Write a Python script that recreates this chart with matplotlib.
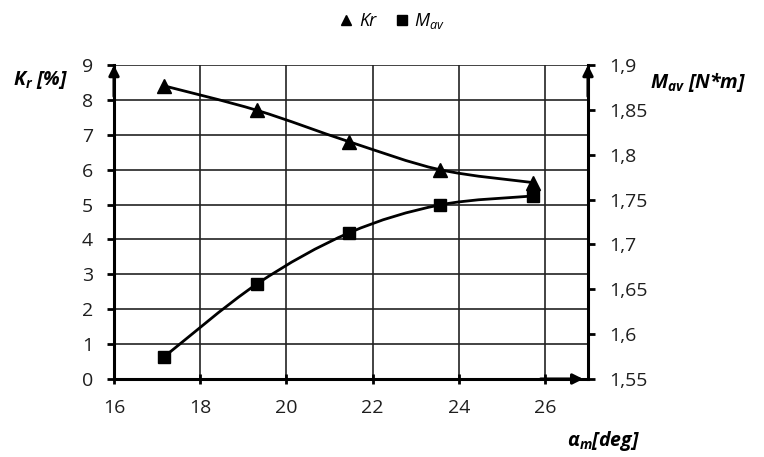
import numpy as np
import matplotlib
matplotlib.use('Agg')
import matplotlib.pyplot as plt
from matplotlib.path import Path
from matplotlib.patches import PathPatch
from matplotlib.lines import Line2D

plt.rcParams['font.family'] = ['Open Sans', 'DejaVu Sans']
plt.rcParams['mathtext.fontset'] = 'custom'
plt.rcParams['mathtext.rm'] = 'Open Sans'
plt.rcParams['mathtext.it'] = 'Open Sans:italic'
plt.rcParams['mathtext.bf'] = 'Open Sans:italic:bold'

# ── Data ────────────────────────────────────────────────────────────────────
alpha_m = [17.17, 19.32, 21.46, 23.56, 25.72]       # deg
kr      = [8.40, 7.70, 6.80, 6.00, 5.63]            # %
mav     = [1.575, 1.656, 1.713, 1.744, 1.754]       # N*m

x_ticks  = [16, 18, 20, 22, 24, 26]
kr_ticks = list(range(0, 10))
mav_ticks = [1.55, 1.60, 1.65, 1.70, 1.75, 1.80, 1.85, 1.90]

TXT = '#1e1e1e'


def smooth_path(xs, ys):
    # Excel-like smoothed line: cubic Bezier segments, Catmull-Rom tangents
    p = np.column_stack([xs, ys]).astype(float)
    n = len(p)
    verts = [p[0]]
    codes = [Path.MOVETO]
    for i in range(n - 1):
        prev = p[i - 1] if i > 0 else p[i]
        nxt = p[i + 2] if i + 2 < n else p[i + 1]
        c1 = p[i] + (p[i + 1] - prev) / 6
        c2 = p[i + 1] - (nxt - p[i]) / 6
        verts += [c1, c2, p[i + 1]]
        codes += [Path.CURVE4] * 3
    return Path(verts, codes)


fig = plt.figure(figsize=(7.64, 4.57), dpi=100)
ax = fig.add_axes([114 / 764, 1 - 379 / 457, (588 - 114) / 764, (379 - 65) / 457])
ax2 = ax.twinx()

ax.set_xlim(16, 27)
ax.set_ylim(0, 9)
ax2.set_ylim(1.55, 1.9)

ax.set_xticks(x_ticks)
ax.set_yticks(kr_ticks)
ax2.set_yticks(mav_ticks)
ax.set_xticklabels([str(t) for t in x_ticks])
ax.set_yticklabels([str(t) for t in kr_ticks])
ax2.set_yticklabels([f"{t:g}".replace('.', ',') for t in mav_ticks])

ax.grid(True, color='#222222', lw=1.2)
ax.set_axisbelow(True)

for s in ['top', 'right']:
    ax.spines[s].set_visible(False)
for s in ['top', 'left', 'bottom']:
    ax2.spines[s].set_visible(False)
ax.spines['left'].set_linewidth(2.2)
ax.spines['bottom'].set_linewidth(2.2)
ax2.spines['right'].set_linewidth(2.2)

ax.tick_params(axis='y', direction='out', length=5, width=2, pad=10,
               labelsize=14, labelcolor=TXT)
ax.tick_params(axis='x', direction='inout', length=7, width=2, pad=11,
               labelsize=14, labelcolor=TXT)
ax2.tick_params(axis='y', direction='out', length=5, width=2, pad=10,
                labelsize=14, labelcolor=TXT)

# axis arrows
arrow = dict(arrowstyle='-|>', color='black', lw=2.2, mutation_scale=15,
             shrinkA=0, shrinkB=0)
ax.annotate('', xy=(0, 1.0), xytext=(0, 0.9), xycoords='axes fraction',
            arrowprops=arrow, annotation_clip=False)
ax.annotate('', xy=(1, 1.0), xytext=(1, 0.9), xycoords='axes fraction',
            arrowprops=arrow, annotation_clip=False)
ax.annotate('', xy=(0.99, 0), xytext=(0.9, 0), xycoords='axes fraction',
            arrowprops=arrow, annotation_clip=False)

# curves
ax.add_patch(PathPatch(smooth_path(alpha_m, kr), fc='none', ec='black', lw=2, zorder=3))
ax2.add_patch(PathPatch(smooth_path(alpha_m, mav), fc='none', ec='black', lw=2, zorder=3))
ax.plot(alpha_m, kr, ls='none', marker='^', ms=10, color='black', zorder=4)
ax2.plot(alpha_m, mav, ls='none', marker='s', ms=9, color='black', zorder=4)

# axis titles
fig.text(13 / 764, 1 - 80 / 457, r'$\mathbf{K_r}$ [%]', fontsize=14,
         fontweight='bold', style='italic', ha='left', va='center')
fig.text(650 / 764, 1 - 82 / 457, r'$\mathbf{M_{av}}$ [N*m]', fontsize=14,
         fontweight='bold', style='italic', ha='left', va='center')
fig.text(567 / 764, 1 - 441 / 457, r'$\mathbf{\alpha_m}$[deg]', fontsize=14,
         fontweight='bold', style='italic', ha='left', va='center')

# legend
handles = [Line2D([], [], ls='none', marker='^', ms=7, color='black', label='Kr'),
           Line2D([], [], ls='none', marker='s', ms=7, color='black', label=r'$M_{av}$')]
fig.legend(handles=handles, loc='center', bbox_to_anchor=(392 / 764, 1 - 21 / 457),
           ncol=2, frameon=False, handlelength=0.8, handletextpad=0.3,
           columnspacing=1.0, prop=dict(size=13, style='italic'))

fig.savefig('out.png', dpi=100)
